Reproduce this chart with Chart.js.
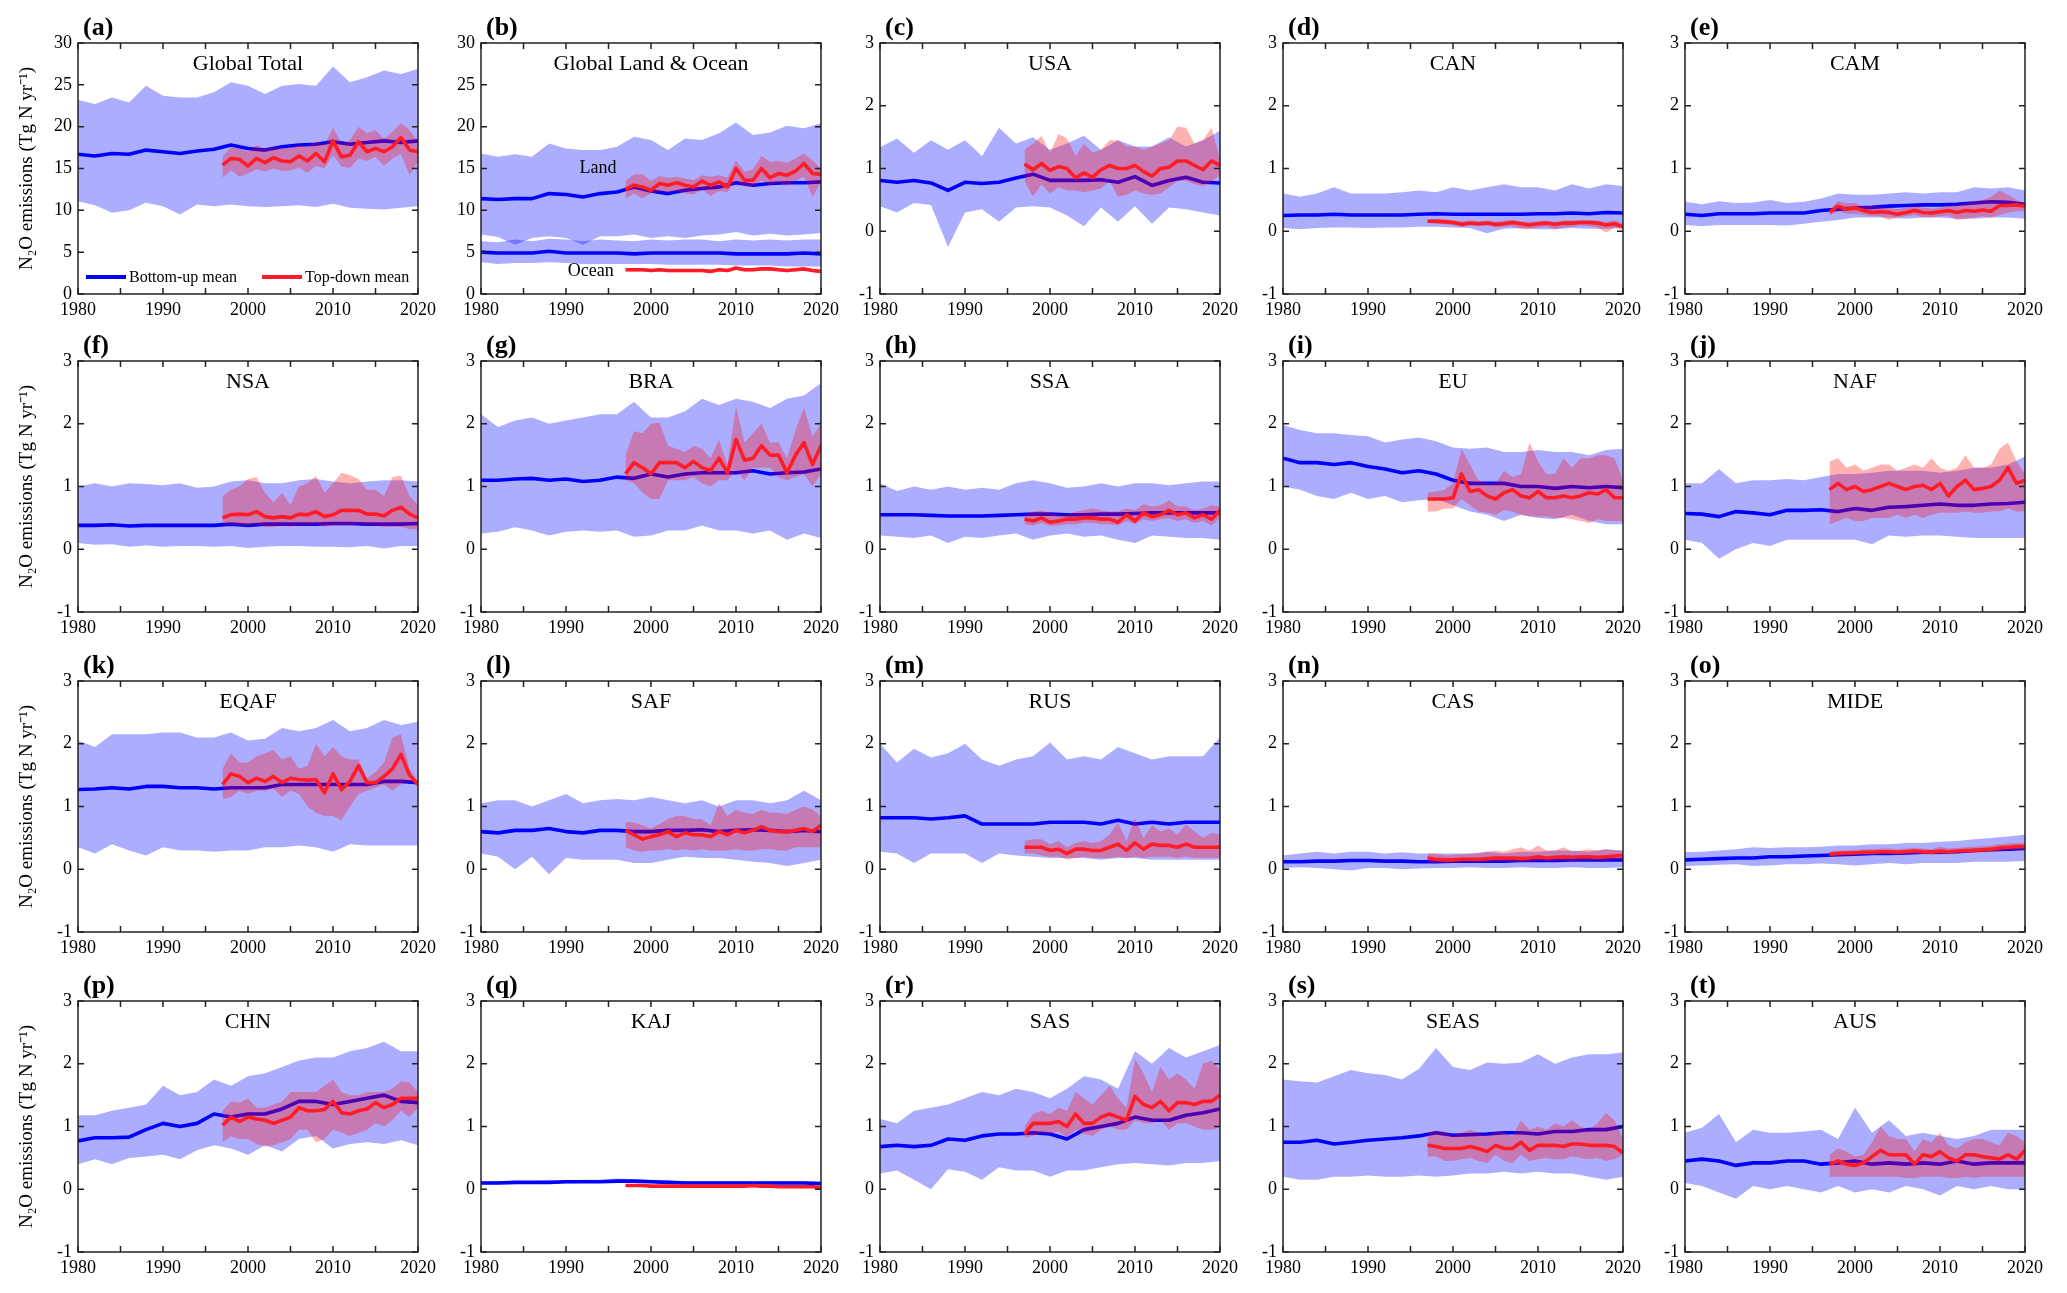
<!DOCTYPE html>
<html>
<head>
<meta charset="utf-8">
<script src="https://cdn.jsdelivr.net/npm/chart.js@4.4.1/dist/chart.umd.min.js"></script>
<style>
  body { margin: 0; background: #fff; }
  #wrap { position: relative; width: 2067px; height: 1293px; overflow: hidden; background: #fff; }
  #wrap canvas { position: absolute; }
</style>
</head>
<body>
<div id="wrap"></div>
<script>
// ---- data ----
const buYears = [1980,1982,1984,1986,1988,1990,1992,1994,1996,1998,2000,2002,2004,2006,2008,2010,2012,2014,2016,2018,2020];
const tdYears = [1997,1998,1999,2000,2001,2002,2003,2004,2005,2006,2007,2008,2009,2010,2011,2012,2013,2014,2015,2016,2017,2018,2019,2020];
const xTickLabels = [1980, 1990, 2000, 2010, 2020];
const yTicksGlobal = [0, 5, 10, 15, 20, 25, 30];
const yTicksRegion = [-1, 0, 1, 2, 3];

const panelTags = ["(a)","(b)","(c)","(d)","(e)","(f)","(g)","(h)","(i)","(j)","(k)","(l)","(m)","(n)","(o)","(p)","(q)","(r)","(s)","(t)"];
const regions = ["Global Total","Global Land & Ocean","USA","CAN","CAM","NSA","BRA","SSA","EU","NAF","EQAF","SAF","RUS","CAS","MIDE","CHN","KAJ","SAS","SEAS","AUS"];

// bottom-up ensemble (panel b = land)
const buMean = [
  [16.7,16.5,16.8,16.7,17.2,17.0,16.8,17.1,17.3,17.8,17.4,17.2,17.6,17.8,17.9,18.2,17.9,18.1,18.3,18.1,18.3],
  [11.4,11.3,11.4,11.4,12.0,11.9,11.6,12.0,12.2,12.8,12.3,12.0,12.4,12.6,12.8,13.3,13.0,13.2,13.3,13.3,13.4],
  [0.81,0.78,0.81,0.77,0.65,0.78,0.76,0.78,0.85,0.91,0.81,0.81,0.81,0.82,0.78,0.87,0.73,0.81,0.86,0.78,0.77],
  [0.25,0.26,0.26,0.27,0.26,0.26,0.26,0.26,0.27,0.28,0.27,0.27,0.27,0.27,0.27,0.28,0.28,0.29,0.28,0.30,0.29],
  [0.27,0.25,0.28,0.28,0.28,0.29,0.29,0.29,0.33,0.35,0.37,0.38,0.40,0.41,0.42,0.42,0.43,0.45,0.47,0.46,0.43],
  [0.38,0.38,0.39,0.37,0.38,0.38,0.38,0.38,0.38,0.40,0.38,0.40,0.40,0.40,0.40,0.41,0.41,0.40,0.40,0.40,0.41],
  [1.10,1.10,1.12,1.13,1.10,1.12,1.08,1.10,1.15,1.13,1.20,1.15,1.20,1.22,1.22,1.22,1.25,1.20,1.22,1.23,1.28],
  [0.55,0.55,0.55,0.54,0.53,0.53,0.53,0.54,0.55,0.56,0.56,0.55,0.55,0.56,0.56,0.57,0.58,0.58,0.58,0.58,0.58],
  [1.45,1.38,1.38,1.35,1.38,1.32,1.28,1.22,1.25,1.20,1.10,1.05,1.05,1.05,1.00,1.00,0.97,1.00,0.98,1.00,0.98],
  [0.57,0.56,0.52,0.60,0.58,0.55,0.62,0.62,0.63,0.60,0.65,0.62,0.67,0.68,0.70,0.72,0.70,0.70,0.72,0.73,0.75],
  [1.27,1.28,1.30,1.28,1.32,1.32,1.30,1.30,1.28,1.30,1.30,1.30,1.35,1.35,1.35,1.35,1.35,1.35,1.40,1.40,1.38],
  [0.60,0.58,0.62,0.62,0.65,0.60,0.58,0.62,0.62,0.60,0.60,0.62,0.62,0.63,0.60,0.62,0.63,0.62,0.60,0.62,0.60],
  [0.82,0.82,0.82,0.80,0.82,0.85,0.72,0.72,0.72,0.72,0.75,0.75,0.75,0.72,0.78,0.72,0.75,0.72,0.75,0.75,0.75],
  [0.12,0.12,0.13,0.13,0.14,0.14,0.13,0.13,0.12,0.12,0.13,0.13,0.13,0.13,0.14,0.14,0.14,0.15,0.15,0.15,0.15],
  [0.15,0.16,0.17,0.18,0.18,0.20,0.20,0.21,0.22,0.23,0.24,0.25,0.25,0.26,0.27,0.27,0.28,0.30,0.31,0.32,0.33],
  [0.77,0.82,0.82,0.83,0.95,1.05,1.00,1.05,1.20,1.15,1.20,1.20,1.28,1.40,1.40,1.35,1.40,1.45,1.50,1.40,1.38],
  [0.10,0.10,0.11,0.11,0.11,0.12,0.12,0.12,0.13,0.13,0.12,0.11,0.10,0.10,0.10,0.10,0.10,0.10,0.10,0.10,0.09],
  [0.68,0.70,0.68,0.70,0.80,0.78,0.85,0.88,0.88,0.90,0.88,0.80,0.95,1.00,1.05,1.15,1.10,1.10,1.18,1.22,1.28],
  [0.75,0.75,0.78,0.72,0.75,0.78,0.80,0.82,0.85,0.90,0.86,0.87,0.88,0.90,0.90,0.88,0.92,0.92,0.95,0.95,1.00],
  [0.45,0.48,0.45,0.38,0.42,0.42,0.45,0.45,0.40,0.42,0.45,0.40,0.42,0.40,0.42,0.40,0.45,0.40,0.42,0.42,0.42]
];
const buMax = [
  [23.2,22.7,23.5,22.9,24.9,23.7,23.5,23.5,24.1,25.3,24.9,23.9,24.9,25.1,24.9,27.2,25.3,25.9,26.7,26.3,26.9],
  [16.8,16.4,16.7,16.4,18.0,17.4,17.2,17.2,17.6,18.8,18.4,17.2,18.6,18.4,19.2,20.5,19.0,19.3,20.1,19.8,20.4],
  [1.34,1.48,1.25,1.45,1.30,1.45,1.20,1.65,1.40,1.50,1.30,1.40,1.52,1.30,1.45,1.35,1.35,1.50,1.35,1.45,1.60],
  [0.60,0.55,0.60,0.70,0.60,0.60,0.60,0.62,0.65,0.62,0.70,0.65,0.70,0.75,0.70,0.70,0.65,0.75,0.68,0.75,0.72],
  [0.47,0.43,0.48,0.45,0.46,0.50,0.45,0.47,0.52,0.60,0.58,0.58,0.60,0.62,0.60,0.62,0.62,0.70,0.68,0.70,0.65],
  [1.00,1.05,1.00,1.05,1.04,1.02,1.05,0.98,1.00,1.08,1.10,1.05,1.05,1.10,1.12,1.08,1.05,1.08,1.10,1.10,1.08],
  [2.15,1.95,2.05,2.10,2.00,2.05,2.10,2.15,2.15,2.35,2.10,2.10,2.20,2.40,2.30,2.40,2.35,2.25,2.40,2.45,2.65],
  [1.05,0.93,1.00,0.95,1.00,0.95,0.98,0.95,1.05,1.10,1.05,0.98,1.00,1.05,1.00,1.05,1.05,1.02,1.05,1.08,1.08],
  [1.98,1.90,1.85,1.85,1.82,1.80,1.70,1.75,1.78,1.72,1.62,1.60,1.62,1.55,1.55,1.58,1.55,1.55,1.50,1.58,1.60],
  [1.05,1.05,1.28,1.05,1.10,1.10,1.12,1.10,1.15,1.20,1.20,1.22,1.25,1.25,1.25,1.22,1.25,1.30,1.30,1.35,1.48],
  [2.05,1.95,2.15,2.15,2.15,2.18,2.18,2.10,2.10,2.18,2.05,2.08,2.25,2.20,2.25,2.38,2.20,2.25,2.38,2.30,2.35],
  [1.05,1.10,1.10,1.00,1.10,1.20,1.05,1.10,1.12,1.10,1.15,1.10,1.05,1.10,1.00,1.10,1.10,1.05,1.10,1.25,1.10],
  [2.00,1.70,1.92,1.78,1.85,2.00,1.75,1.65,1.75,1.80,2.02,1.75,1.80,1.75,1.95,1.85,1.75,1.80,1.80,1.80,2.10],
  [0.22,0.25,0.28,0.25,0.28,0.28,0.25,0.27,0.25,0.25,0.25,0.25,0.28,0.25,0.28,0.28,0.30,0.30,0.28,0.32,0.30],
  [0.27,0.28,0.30,0.32,0.35,0.34,0.35,0.35,0.36,0.38,0.38,0.40,0.40,0.42,0.42,0.44,0.45,0.48,0.50,0.52,0.55],
  [1.18,1.18,1.25,1.30,1.35,1.65,1.50,1.55,1.75,1.65,1.80,1.85,1.95,2.05,2.10,2.10,2.20,2.25,2.35,2.20,2.20],
  [0.13,0.13,0.13,0.13,0.14,0.14,0.15,0.15,0.17,0.16,0.15,0.14,0.13,0.13,0.13,0.13,0.13,0.13,0.13,0.13,0.12],
  [1.12,1.05,1.25,1.30,1.35,1.45,1.55,1.50,1.60,1.55,1.45,1.60,1.80,1.75,1.60,2.20,2.00,2.25,2.10,2.20,2.30],
  [1.75,1.72,1.70,1.80,1.90,1.85,1.82,1.75,1.92,2.25,1.95,1.90,2.02,2.00,2.02,2.15,2.00,2.10,2.15,2.15,2.18],
  [0.90,0.98,1.20,0.75,0.95,0.90,0.90,0.92,0.95,0.80,1.30,0.90,1.10,0.85,0.90,0.85,0.80,0.85,0.95,0.95,0.95]
];
const buMin = [
  [11.1,10.6,9.7,10.0,10.9,10.5,9.5,10.7,10.5,10.7,10.5,10.4,10.5,10.6,10.4,10.8,10.3,10.2,10.1,10.3,10.5],
  [7.1,6.8,5.9,6.7,6.9,6.7,5.9,6.9,6.9,7.1,6.7,6.9,6.7,7.0,7.1,7.4,7.0,7.2,7.0,7.1,7.3],
  [0.40,0.30,0.45,0.42,-0.25,0.30,0.35,0.15,0.38,0.40,0.38,0.25,0.08,0.38,0.15,0.40,0.12,0.38,0.35,0.30,0.25],
  [0.05,0.03,0.05,0.06,0.06,0.05,0.06,0.06,0.07,0.07,0.06,0.05,-0.03,0.04,0.05,0.03,0.03,0.05,0.04,0.04,0.06],
  [0.10,0.08,0.10,0.10,0.10,0.10,0.09,0.12,0.15,0.18,0.22,0.22,0.22,0.20,0.22,0.22,0.20,0.20,0.22,0.22,0.20],
  [0.10,0.07,0.08,0.04,0.06,0.04,0.05,0.05,0.04,0.05,0.02,0.04,0.05,0.05,0.04,0.04,0.03,0.05,0.01,0.05,0.05],
  [0.25,0.28,0.35,0.30,0.22,0.28,0.30,0.28,0.30,0.20,0.22,0.30,0.30,0.38,0.30,0.30,0.25,0.30,0.15,0.25,0.18],
  [0.22,0.20,0.18,0.22,0.10,0.20,0.18,0.22,0.25,0.15,0.22,0.25,0.20,0.22,0.15,0.10,0.22,0.20,0.18,0.18,0.15],
  [1.00,0.95,0.85,0.80,0.90,0.80,0.85,0.75,0.78,0.80,0.70,0.60,0.55,0.45,0.55,0.50,0.48,0.55,0.45,0.40,0.40],
  [0.15,0.10,-0.15,0.00,0.10,0.05,0.15,0.15,0.15,0.15,0.15,0.08,0.22,0.20,0.22,0.22,0.20,0.18,0.18,0.18,0.18],
  [0.35,0.25,0.40,0.30,0.22,0.35,0.30,0.30,0.28,0.30,0.30,0.35,0.35,0.38,0.35,0.28,0.40,0.38,0.38,0.38,0.38],
  [0.25,0.20,0.00,0.20,-0.08,0.18,0.15,0.15,0.15,0.10,0.10,0.15,0.20,0.18,0.18,0.15,0.12,0.10,0.05,0.10,0.15],
  [0.28,0.25,0.10,0.25,0.25,0.25,0.10,0.25,0.22,0.20,0.18,0.18,0.18,0.15,0.18,0.18,0.15,0.15,0.15,0.15,0.15],
  [0.02,0.03,0.02,0.00,-0.02,0.02,0.02,0.00,0.01,0.02,0.02,0.03,0.02,0.02,0.03,0.02,0.02,0.03,0.02,0.02,0.03],
  [0.05,0.06,0.07,0.08,0.05,0.06,0.08,0.08,0.09,0.08,0.06,0.08,0.10,0.08,0.10,0.10,0.10,0.12,0.12,0.12,0.13],
  [0.40,0.48,0.40,0.50,0.52,0.55,0.48,0.62,0.70,0.65,0.55,0.70,0.60,0.80,0.85,0.65,0.72,0.75,0.72,0.78,0.70],
  [0.07,0.08,0.08,0.09,0.09,0.09,0.10,0.10,0.10,0.10,0.09,0.09,0.08,0.08,0.08,0.08,0.08,0.08,0.08,0.08,0.07],
  [0.25,0.30,0.15,0.00,0.32,0.28,0.15,0.35,0.30,0.30,0.20,0.30,0.30,0.35,0.40,0.42,0.40,0.38,0.42,0.42,0.45],
  [0.20,0.15,0.15,0.20,0.20,0.22,0.20,0.20,0.22,0.20,0.22,0.25,0.25,0.28,0.25,0.28,0.25,0.25,0.20,0.15,0.20],
  [0.10,0.05,-0.05,-0.15,0.05,0.00,0.05,0.00,-0.05,0.05,-0.05,0.00,-0.05,0.05,0.00,-0.10,0.05,0.00,0.05,0.00,0.00]
];

// top-down ensemble (panel b = land)
const tdMean = [
  [15.4,16.2,16.1,15.3,16.2,15.7,16.3,15.9,15.8,16.5,15.9,16.8,15.8,18.3,16.4,16.6,18.2,17.0,17.4,17.0,17.6,18.7,17.2,17.0],
  [12.5,13.0,12.8,12.4,13.2,13.0,13.3,13.0,12.8,13.5,13.0,13.4,12.8,15.0,13.6,13.6,15.0,13.9,14.4,14.2,14.7,15.6,14.4,14.3],
  [1.07,0.98,1.08,0.97,1.03,1.00,0.85,0.93,0.86,0.98,1.05,1.00,1.00,1.05,0.95,0.88,1.00,1.02,1.12,1.12,1.05,0.98,1.12,1.05],
  [0.16,0.16,0.15,0.14,0.11,0.13,0.12,0.13,0.11,0.12,0.14,0.12,0.10,0.12,0.13,0.11,0.13,0.13,0.14,0.14,0.13,0.10,0.12,0.07],
  [0.30,0.40,0.35,0.37,0.33,0.30,0.31,0.30,0.27,0.30,0.33,0.30,0.29,0.31,0.33,0.30,0.33,0.32,0.34,0.32,0.41,0.41,0.42,0.40],
  [0.50,0.55,0.56,0.55,0.60,0.52,0.50,0.52,0.50,0.56,0.55,0.60,0.52,0.55,0.62,0.62,0.62,0.56,0.56,0.53,0.62,0.67,0.56,0.50],
  [1.20,1.38,1.30,1.20,1.38,1.38,1.38,1.30,1.40,1.30,1.25,1.45,1.22,1.75,1.42,1.45,1.65,1.50,1.50,1.22,1.50,1.70,1.35,1.65],
  [0.48,0.45,0.50,0.43,0.45,0.48,0.48,0.50,0.50,0.48,0.48,0.43,0.55,0.45,0.58,0.52,0.55,0.62,0.55,0.58,0.50,0.55,0.48,0.62],
  [0.80,0.80,0.80,0.82,1.20,0.92,0.95,0.85,0.80,0.90,0.95,0.85,0.82,0.92,0.82,0.82,0.85,0.82,0.85,0.90,0.88,0.95,0.82,0.82],
  [0.95,1.05,0.95,1.00,0.92,0.95,1.00,1.05,1.00,0.95,1.00,1.02,0.95,1.05,0.85,1.00,1.10,0.95,0.97,1.00,1.10,1.30,1.05,1.10],
  [1.35,1.52,1.48,1.38,1.45,1.40,1.48,1.38,1.45,1.43,1.42,1.43,1.22,1.52,1.27,1.40,1.65,1.38,1.38,1.48,1.60,1.83,1.50,1.35],
  [0.62,0.55,0.48,0.52,0.55,0.60,0.52,0.58,0.55,0.55,0.52,0.60,0.55,0.62,0.58,0.62,0.68,0.62,0.60,0.60,0.62,0.65,0.60,0.70],
  [0.35,0.35,0.35,0.30,0.32,0.25,0.32,0.32,0.30,0.30,0.35,0.40,0.30,0.42,0.32,0.40,0.38,0.38,0.35,0.40,0.35,0.35,0.35,0.35],
  [0.18,0.16,0.15,0.15,0.16,0.16,0.16,0.17,0.18,0.18,0.18,0.17,0.18,0.20,0.18,0.19,0.20,0.19,0.20,0.20,0.19,0.20,0.21,0.22],
  [0.24,0.25,0.26,0.26,0.27,0.27,0.28,0.28,0.27,0.28,0.29,0.28,0.27,0.29,0.28,0.29,0.30,0.30,0.31,0.32,0.34,0.35,0.36,0.36],
  [1.02,1.15,1.08,1.15,1.12,1.10,1.05,1.10,1.15,1.30,1.25,1.25,1.27,1.40,1.22,1.20,1.25,1.28,1.38,1.30,1.35,1.45,1.45,1.45],
  [0.06,0.06,0.06,0.05,0.05,0.05,0.05,0.05,0.05,0.05,0.05,0.05,0.05,0.05,0.05,0.06,0.05,0.05,0.04,0.04,0.04,0.04,0.04,0.03],
  [0.88,1.05,1.05,1.05,1.08,1.00,1.20,1.05,1.05,1.15,1.20,1.15,1.10,1.48,1.35,1.30,1.40,1.25,1.38,1.38,1.35,1.40,1.40,1.50],
  [0.70,0.68,0.65,0.65,0.65,0.68,0.65,0.60,0.70,0.65,0.65,0.75,0.62,0.70,0.70,0.70,0.68,0.72,0.72,0.70,0.70,0.70,0.68,0.58],
  [0.40,0.45,0.40,0.38,0.42,0.52,0.62,0.55,0.55,0.55,0.40,0.55,0.52,0.60,0.50,0.45,0.55,0.55,0.52,0.50,0.48,0.55,0.48,0.62]
];
const tdMax = [
  [16.5,17.5,17.4,17.0,17.8,17.3,17.6,17.4,17.5,17.8,17.6,18.3,17.8,19.9,18.0,18.4,20.0,19.2,19.6,18.6,19.4,20.4,19.6,18.2],
  [13.5,14.3,14.3,13.5,14.1,13.9,14.0,13.8,13.6,14.2,14.0,14.2,13.9,16.0,14.6,14.9,16.5,15.8,15.9,15.7,16.2,16.8,16.0,15.0],
  [1.30,1.40,1.52,1.25,1.55,1.48,1.20,1.40,1.25,1.30,1.45,1.45,1.35,1.35,1.30,1.35,1.40,1.45,1.67,1.65,1.40,1.45,1.65,1.15],
  [0.19,0.20,0.19,0.18,0.16,0.17,0.16,0.17,0.15,0.17,0.18,0.16,0.15,0.16,0.17,0.15,0.17,0.17,0.18,0.18,0.17,0.15,0.18,0.12],
  [0.35,0.48,0.45,0.45,0.40,0.40,0.38,0.38,0.35,0.38,0.40,0.38,0.36,0.38,0.40,0.42,0.45,0.48,0.50,0.55,0.65,0.58,0.50,0.45],
  [0.85,0.95,1.00,1.12,1.15,0.90,0.75,0.90,0.70,1.00,1.05,1.17,0.90,1.05,1.22,1.18,1.12,0.95,0.95,0.85,1.15,1.17,0.85,0.70],
  [1.50,1.88,1.85,2.00,2.02,1.65,1.60,1.55,1.65,1.60,1.45,1.75,1.35,2.28,1.70,1.85,2.00,1.70,1.70,1.45,1.90,2.25,1.80,2.00],
  [0.55,0.60,0.62,0.58,0.55,0.55,0.60,0.62,0.65,0.62,0.60,0.60,0.65,0.62,0.72,0.68,0.70,0.78,0.68,0.68,0.62,0.65,0.70,0.68],
  [0.90,0.92,0.95,1.05,1.60,1.35,1.10,1.05,1.05,1.25,1.15,1.20,1.70,1.40,1.20,1.20,1.45,1.30,1.45,1.45,1.50,1.50,1.45,1.10],
  [1.40,1.45,1.30,1.35,1.25,1.30,1.35,1.35,1.25,1.30,1.35,1.30,1.45,1.30,1.25,1.30,1.50,1.30,1.30,1.35,1.60,1.70,1.40,1.20],
  [1.60,1.85,1.70,1.70,1.80,1.85,1.90,1.75,1.80,1.60,1.65,2.00,1.80,1.95,1.80,1.75,1.75,1.45,1.55,1.70,2.10,2.15,1.60,1.40],
  [0.75,0.75,0.70,0.65,0.72,0.80,0.85,0.85,0.80,0.80,0.70,1.05,0.85,0.95,0.90,0.88,0.95,0.90,0.90,0.88,0.95,1.00,0.95,0.85],
  [0.45,0.48,0.48,0.40,0.45,0.35,0.42,0.45,0.42,0.45,0.55,0.75,0.45,0.82,0.50,0.70,0.60,0.65,0.55,0.72,0.60,0.50,0.58,0.55],
  [0.25,0.25,0.22,0.23,0.24,0.25,0.25,0.28,0.30,0.28,0.32,0.35,0.30,0.38,0.30,0.30,0.35,0.28,0.30,0.32,0.30,0.32,0.30,0.30],
  [0.28,0.30,0.30,0.31,0.32,0.32,0.33,0.33,0.32,0.33,0.34,0.33,0.32,0.36,0.33,0.34,0.35,0.36,0.37,0.38,0.40,0.41,0.42,0.41],
  [1.25,1.40,1.38,1.45,1.30,1.30,1.35,1.40,1.55,1.55,1.55,1.55,1.65,1.75,1.55,1.50,1.50,1.55,1.55,1.55,1.60,1.72,1.70,1.55],
  [0.07,0.07,0.07,0.06,0.06,0.06,0.06,0.06,0.06,0.06,0.06,0.06,0.06,0.06,0.06,0.07,0.06,0.06,0.05,0.05,0.05,0.05,0.05,0.05],
  [1.00,1.20,1.25,1.20,1.30,1.25,1.55,1.45,1.35,1.50,1.65,1.45,1.30,2.08,1.85,1.55,1.95,1.75,1.85,1.75,1.60,2.00,2.05,1.90],
  [0.90,0.92,0.92,0.85,0.90,0.95,0.90,0.85,0.92,0.90,0.85,1.10,0.95,1.00,0.95,1.05,1.00,1.10,1.00,0.95,1.05,1.22,1.10,0.80],
  [0.55,0.65,0.60,0.52,0.55,0.75,1.00,0.85,0.80,0.80,0.60,0.80,0.75,0.90,0.70,0.65,0.75,0.80,0.80,0.75,0.70,0.90,0.85,0.75]
];
const tdMin = [
  [13.9,14.8,14.0,14.4,14.9,14.6,15.0,14.7,14.8,15.1,14.5,15.3,15.0,16.6,15.2,15.1,16.2,15.9,16.4,15.3,16.2,16.7,14.2,15.8],
  [11.4,12.0,11.4,12.0,12.3,12.1,12.3,12.0,11.9,12.5,11.7,12.3,12.2,13.5,12.8,12.9,13.6,13.0,13.3,12.9,13.5,14.0,11.6,13.4],
  [0.80,0.55,0.75,0.60,0.70,0.65,0.65,0.62,0.65,0.68,0.80,0.55,0.58,0.65,0.60,0.58,0.60,0.70,0.80,0.80,0.75,0.72,0.78,0.90],
  [0.13,0.12,0.11,0.10,0.07,0.09,0.08,0.09,0.06,0.07,0.08,0.03,0.03,0.06,0.07,0.03,0.06,0.07,0.09,0.08,0.06,-0.02,0.05,0.02],
  [0.25,0.32,0.28,0.28,0.26,0.24,0.24,0.18,0.22,0.24,0.26,0.22,0.22,0.24,0.25,0.18,0.20,0.22,0.24,0.22,0.26,0.30,0.32,0.32],
  [0.38,0.40,0.38,0.38,0.40,0.35,0.35,0.38,0.36,0.38,0.38,0.40,0.36,0.38,0.38,0.38,0.40,0.38,0.38,0.35,0.36,0.36,0.32,0.32],
  [1.10,1.05,0.90,0.80,0.80,1.10,1.10,1.10,1.15,1.05,1.00,1.10,1.10,1.25,1.10,1.30,1.30,1.30,1.15,1.10,1.15,1.20,1.00,1.20],
  [0.40,0.38,0.42,0.37,0.38,0.40,0.40,0.42,0.42,0.40,0.40,0.38,0.45,0.40,0.48,0.45,0.48,0.50,0.45,0.48,0.42,0.45,0.38,0.50],
  [0.60,0.60,0.65,0.65,0.80,0.70,0.60,0.58,0.55,0.62,0.60,0.55,0.52,0.52,0.52,0.50,0.50,0.48,0.45,0.42,0.48,0.45,0.45,0.45],
  [0.40,0.45,0.50,0.45,0.45,0.50,0.50,0.50,0.55,0.50,0.55,0.50,0.55,0.58,0.58,0.58,0.60,0.58,0.58,0.60,0.60,0.65,0.60,0.60],
  [1.12,1.15,1.25,1.20,1.25,1.25,1.28,1.15,1.25,1.20,1.00,0.90,0.85,0.85,0.78,1.00,1.20,1.25,1.30,1.35,1.25,1.35,1.40,1.35],
  [0.35,0.30,0.28,0.30,0.30,0.32,0.30,0.32,0.30,0.32,0.30,0.30,0.30,0.32,0.30,0.30,0.32,0.32,0.30,0.30,0.35,0.35,0.35,0.35],
  [0.25,0.25,0.22,0.20,0.20,0.15,0.18,0.20,0.18,0.18,0.18,0.20,0.18,0.20,0.18,0.20,0.20,0.20,0.18,0.20,0.18,0.18,0.18,0.18],
  [0.10,0.10,0.10,0.10,0.11,0.11,0.11,0.12,0.12,0.12,0.12,0.12,0.12,0.13,0.13,0.13,0.13,0.13,0.14,0.14,0.14,0.14,0.15,0.15],
  [0.20,0.21,0.22,0.22,0.23,0.23,0.24,0.24,0.23,0.24,0.25,0.24,0.23,0.24,0.24,0.25,0.26,0.26,0.27,0.28,0.29,0.30,0.31,0.31],
  [0.75,0.85,0.80,0.80,0.72,0.68,0.70,0.75,0.80,0.95,0.95,0.75,0.80,0.95,0.90,0.85,0.90,0.95,1.05,1.00,1.10,1.25,1.15,1.30],
  [0.05,0.05,0.05,0.04,0.04,0.04,0.04,0.04,0.04,0.04,0.04,0.04,0.04,0.04,0.04,0.05,0.04,0.04,0.03,0.03,0.03,0.03,0.03,0.02],
  [0.82,0.85,0.90,0.88,0.92,0.82,0.95,0.88,0.85,0.95,1.00,0.95,0.95,1.10,1.05,1.05,1.10,0.95,1.05,1.05,1.00,0.95,0.95,0.98],
  [0.52,0.52,0.45,0.45,0.48,0.50,0.45,0.42,0.55,0.45,0.42,0.55,0.45,0.48,0.50,0.48,0.48,0.52,0.50,0.48,0.50,0.45,0.48,0.55],
  [0.20,0.20,0.20,0.20,0.20,0.20,0.20,0.20,0.20,0.18,0.18,0.20,0.20,0.20,0.18,0.18,0.20,0.18,0.20,0.20,0.20,0.20,0.20,0.20]
];

// panel (b) ocean
const oceanBuMean = [5.0,4.9,4.9,4.9,5.1,4.9,4.9,4.9,4.9,4.8,4.9,4.9,4.9,4.9,4.9,4.8,4.8,4.8,4.8,4.9,4.8];
const oceanBuMax  = [6.3,6.2,6.5,6.3,6.6,6.5,6.3,6.5,6.4,6.3,6.5,6.4,6.5,6.5,6.3,6.5,6.4,6.5,6.4,6.5,6.5];
const oceanBuMin  = [3.8,3.6,3.7,3.7,3.8,3.7,3.6,3.6,3.6,3.6,3.6,3.5,3.5,3.5,3.5,3.4,3.4,3.4,3.3,3.3,3.3];
const oceanTdMean = [2.9,2.9,2.9,2.8,2.9,2.8,2.8,2.8,2.8,2.8,2.7,2.9,2.8,3.1,2.9,2.9,3.0,3.0,2.9,2.8,2.9,3.0,2.8,2.7];
const oceanTdMax  = [3.1,3.1,3.1,3.0,3.1,3.0,3.0,3.0,3.0,3.0,2.9,3.1,3.0,3.3,3.1,3.1,3.2,3.2,3.1,3.0,3.1,3.2,3.0,2.9];
const oceanTdMin  = [2.7,2.7,2.7,2.6,2.7,2.6,2.6,2.6,2.6,2.6,2.5,2.7,2.6,2.9,2.7,2.7,2.8,2.8,2.7,2.6,2.7,2.8,2.6,2.5];

// text notes in panel (b), in data coordinates
const landOceanNotes = [
  { text: "Land", x: 1991.6, y: 14.5 },
  { text: "Ocean", x: 1990.2, y: 2.2 }
];

// ---- layout / style ----
const FONT = "'Liberation Serif', 'Times New Roman', serif";
const BLUE = "rgb(0,0,255)";
const RED = "rgb(255,28,38)";
const BLUE_BAND = "rgba(0,0,255,0.32)";
const RED_BAND = "rgba(255,0,0,0.30)";

const colLeft = [78, 481, 880, 1283, 1685];
const rowTop = [43, 361, 681, 1001];
const plotW = 340, plotH = 251;
const padT = 46, padR = 44, padB = 34;

Chart.defaults.font.family = FONT;
Chart.defaults.color = "#000";

function pts(xs, ys) {
  return xs.map((x, k) => ({ x: x, y: ys[k] }));
}

function bandSets(xs, lo, hi, color, order) {
  return [
    { data: pts(xs, lo), borderWidth: 0, borderColor: "transparent", pointRadius: 0, fill: false, order: order },
    { data: pts(xs, hi), borderWidth: 0, borderColor: "transparent", backgroundColor: color, pointRadius: 0, fill: "-1", order: order }
  ];
}

function lineSet(xs, ys, color, order) {
  return { data: pts(xs, ys), borderColor: color, borderWidth: 3.6, pointRadius: 0, fill: false, order: order, borderJoinStyle: "round" };
}

// box with inward ticks on all four sides
const framePlugin = {
  id: "frame",
  afterDatasetsDraw(chart) {
    const { ctx, chartArea: a, scales } = chart;
    const x = scales.x, y = scales.y;
    ctx.save();
    ctx.strokeStyle = "#222";
    ctx.lineWidth = 1.5;
    ctx.strokeRect(a.left, a.top, a.right - a.left, a.bottom - a.top);
    ctx.beginPath();
    for (let v = x.min; v <= x.max; v += 5) {
      const px = x.getPixelForValue(v);
      ctx.moveTo(px, a.bottom); ctx.lineTo(px, a.bottom - 6);
      ctx.moveTo(px, a.top); ctx.lineTo(px, a.top + 6);
    }
    y.ticks.forEach((t) => {
      const py = y.getPixelForValue(t.value);
      ctx.moveTo(a.left, py); ctx.lineTo(a.left + 6, py);
      ctx.moveTo(a.right, py); ctx.lineTo(a.right - 6, py);
    });
    ctx.stroke();
    ctx.restore();
  }
};

function textPlugin(i) {
  return {
    id: "panelText" + i,
    afterDraw(chart) {
      const { ctx, chartArea: a } = chart;
      ctx.save();
      ctx.fillStyle = "#000";
      ctx.textBaseline = "alphabetic";
      ctx.textAlign = "left";
      ctx.font = "bold 26px " + FONT;
      ctx.fillText(panelTags[i], a.left + 5, a.top - 8);
      ctx.font = "22px " + FONT;
      ctx.textAlign = "center";
      ctx.fillText(regions[i], (a.left + a.right) / 2, a.top + 27);

      if (i === 0) {
        // legend inside panel (a)
        const ly = a.bottom - 17;
        const items = [
          { x: a.left + 8, color: BLUE, label: "Bottom-up mean" },
          { x: a.left + 184, color: RED, label: "Top-down mean" }
        ];
        ctx.font = "16px " + FONT;
        ctx.textAlign = "left";
        ctx.textBaseline = "middle";
        items.forEach((it) => {
          ctx.strokeStyle = it.color;
          ctx.lineWidth = 4;
          ctx.beginPath();
          ctx.moveTo(it.x, ly); ctx.lineTo(it.x + 40, ly);
          ctx.stroke();
          ctx.fillText(it.label, it.x + 43, ly + 1);
        });
      }
      if (i === 1) {
        ctx.font = "18px " + FONT;
        ctx.textAlign = "left";
        ctx.textBaseline = "alphabetic";
        landOceanNotes.forEach((n) => {
          ctx.fillText(n.text, chart.scales.x.getPixelForValue(n.x), chart.scales.y.getPixelForValue(n.y));
        });
      }
      ctx.restore();
    }
  };
}

const wrap = document.getElementById("wrap");

for (let i = 0; i < 20; i++) {
  const col = i % 5, row = Math.floor(i / 5);
  const isGlobal = i < 2;
  const padL = col === 0 ? colLeft[0] : 52;
  const canvas = document.createElement("canvas");
  const w = padL + plotW + padR, h = padT + plotH + padB;
  canvas.width = w; canvas.height = h;
  canvas.style.width = w + "px"; canvas.style.height = h + "px";
  canvas.style.left = (colLeft[col] - padL) + "px";
  canvas.style.top = (rowTop[row] - padT) + "px";
  wrap.appendChild(canvas);

  let datasets = [];
  if (i === 1) {
    datasets = datasets.concat(
      bandSets(buYears, buMin[i], buMax[i], BLUE_BAND, 6),
      bandSets(buYears, oceanBuMin, oceanBuMax, BLUE_BAND, 6),
      [lineSet(buYears, buMean[i], BLUE, 5), lineSet(buYears, oceanBuMean, BLUE, 5)],
      bandSets(tdYears, tdMin[i], tdMax[i], RED_BAND, 4),
      bandSets(tdYears, oceanTdMin, oceanTdMax, RED_BAND, 4),
      [lineSet(tdYears, tdMean[i], RED, 3), lineSet(tdYears, oceanTdMean, RED, 3)]
    );
  } else {
    datasets = datasets.concat(
      bandSets(buYears, buMin[i], buMax[i], BLUE_BAND, 6),
      [lineSet(buYears, buMean[i], BLUE, 5)],
      bandSets(tdYears, tdMin[i], tdMax[i], RED_BAND, 4),
      [lineSet(tdYears, tdMean[i], RED, 3)]
    );
  }

  const yTicks = isGlobal ? yTicksGlobal : yTicksRegion;

  new Chart(canvas, {
    type: "line",
    data: { datasets: datasets },
    options: {
      responsive: false,
      animation: false,
      events: [],
      layout: { padding: { top: padT, right: padR, left: 0, bottom: 0 } },
      plugins: {
        legend: { display: false },
        tooltip: { enabled: false }
      },
      scales: {
        x: {
          type: "linear",
          min: 1980,
          max: 2020,
          grid: { display: false, drawTicks: false },
          border: { display: false },
          afterBuildTicks: (s) => { s.ticks = xTickLabels.map((v) => ({ value: v })); },
          afterFit: (s) => { s.height = padB; },
          ticks: {
            font: { size: 18, family: FONT },
            color: "#000",
            padding: 5,
            maxRotation: 0,
            autoSkip: false,
            callback: (v) => String(v)
          }
        },
        y: {
          type: "linear",
          min: yTicks[0],
          max: yTicks[yTicks.length - 1],
          grid: { display: false, drawTicks: false },
          border: { display: false },
          afterBuildTicks: (s) => { s.ticks = yTicks.map((v) => ({ value: v })); },
          afterFit: (s) => { s.width = padL; },
          ticks: { font: { size: 18, family: FONT }, color: "#000", padding: 6, callback: (v) => String(v) },
          title: {
            display: col === 0,
            text: "N₂O emissions (Tg N yr⁻¹)",
            font: { size: 19, family: FONT },
            color: "#000",
            padding: { top: 16, bottom: 0 }
          }
        }
      }
    },
    plugins: [framePlugin, textPlugin(i)]
  });
}
</script>
</body>
</html>
